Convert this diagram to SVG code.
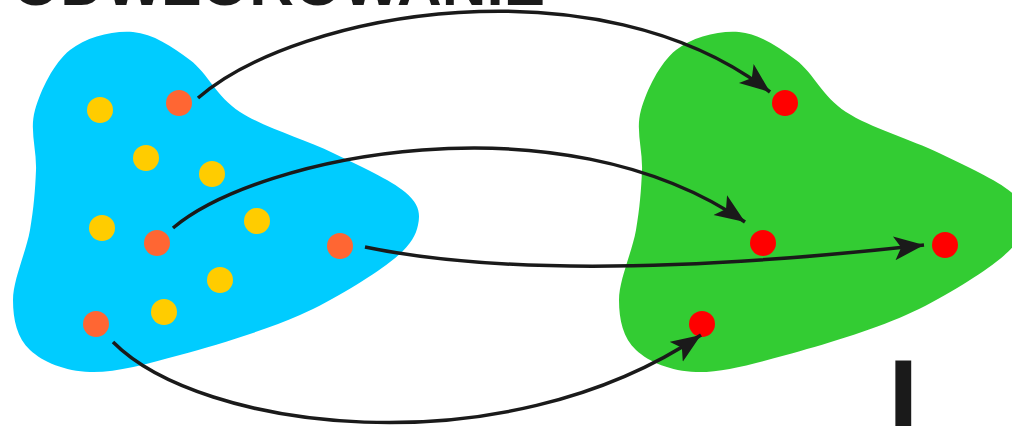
<svg xmlns="http://www.w3.org/2000/svg" width="1012" height="426" viewBox="0 0 1012 426">
<style>
.title{font-family:"Liberation Sans",Arial,sans-serif;font-weight:bold;fill:#1a1a1a}
.yel{fill:#FFCC00}
.org{fill:#FF6633}
.red{fill:#FF0000}
.arr{fill:none;stroke:#1a1a1a;stroke-width:3.5;marker-end:url(#ah)}
</style>
<defs>
<path id="blob" d="M133,32 C153,33.7 172.2,46.7 190,60 C207.8,73.3 216.2,96.5 240,112 C263.8,127.5 305.5,139.7 333,153 C360.5,166.3 390.8,180 405,192 C419.2,204 420.5,213.3 418,225 C415.5,236.7 409.7,247 390,262 C370.3,277 335,299.5 300,315 C265,330.5 215,345.5 180,355 C145,364.5 115,372.8 90,372 C65,371.2 42.8,362 30,350 C17.2,338 13,320 13,300 C13,280 26.2,251.7 30,230 C33.8,208.3 35.2,190 36,170 C36.8,150 29.3,130 35,110 C40.7,90 53.7,63 70,50 C86.3,37 113,30.3 133,32 Z"/>
<marker id="ah" markerUnits="userSpaceOnUse" markerWidth="34" markerHeight="28" refX="30" refY="12" orient="auto">
<path d="M0,0 L30,12 L0,24 L7,12 Z" fill="#1a1a1a"/>
</marker>
</defs>
<text class="title" x="12" y="5" font-size="62" textLength="533" lengthAdjust="spacingAndGlyphs">ODWZOROWANIE</text>
<g id="domain">
<use href="#blob" fill="#00CCFF"/>
<circle class="yel" cx="100" cy="110" r="13"/>
<circle class="yel" cx="146" cy="158" r="13"/>
<circle class="yel" cx="212" cy="174" r="13"/>
<circle class="yel" cx="102" cy="228" r="13"/>
<circle class="yel" cx="257" cy="221" r="13"/>
<circle class="yel" cx="220" cy="280" r="13"/>
<circle class="yel" cx="164" cy="312" r="13"/>
<circle class="org" cx="179" cy="103" r="13"/>
<circle class="org" cx="157" cy="243" r="13"/>
<circle class="org" cx="340" cy="246" r="13"/>
<circle class="org" cx="96" cy="324" r="13"/>
</g>
<g id="codomain">
<use href="#blob" fill="#33CC33" transform="translate(606,0)"/>
<circle class="red" cx="785" cy="103" r="13"/>
<circle class="red" cx="763" cy="243" r="13"/>
<circle class="red" cx="945" cy="245" r="13"/>
<circle class="red" cx="702" cy="324" r="13"/>
</g>
<g id="connectors">
<path class="arr" d="M198,98 C300,10 600,-40 770,92"/>
<path class="arr" d="M173,228 C260,155 560,95 745,222"/>
<path class="arr" d="M365,247 C500,275 700,270 924,245"/>
<path class="arr" d="M113,342 C200,430 500,470 701,335"/>
</g>
<text class="title" x="888" y="436" font-size="110">I</text>
</svg>
